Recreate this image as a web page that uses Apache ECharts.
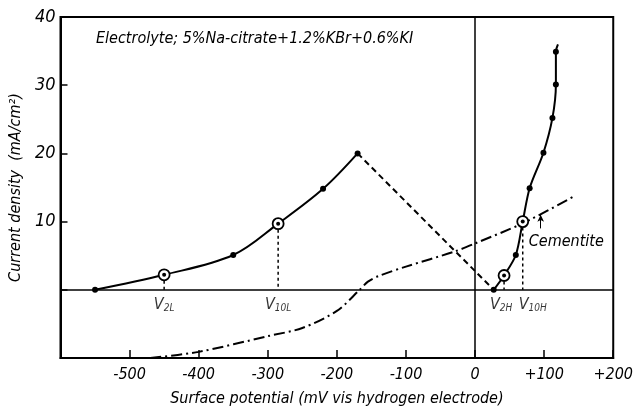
<!DOCTYPE html>
<html>
<head>
<meta charset="utf-8">
<script src="https://cdn.jsdelivr.net/npm/echarts@6/dist/echarts.min.js"></script>
<style>
html,body{margin:0;padding:0;background:#fff;}
#main{width:636px;height:412px;}
</style>
</head>
<body>
<div id="main"></div>
<script>
//数据
var titleText = 'Electrolyte; 5%Na-citrate+1.2%KBr+0.6%KI';
var xTicks = [-600, -500, -400, -300, -200, -100, 0, 100, 200];
var yTicks = [-10, 0, 10, 20, 30, 40];
// 低电位侧 实线
var lowX = [-550, -450, -350, -285, -220, -170];
var lowY = [0, 2.2, 5.1, 9.7, 14.8, 20];
// 虚线 (峰 -> 谷)
var dashX = [-170, 27];
var dashY = [20, 0];
// 高电位侧 实线
var highX = [27, 42, 59, 69, 79, 99, 112, 117, 117, 120];
var highY = [0, 2.1, 5.1, 10, 14.9, 20.1, 25.2, 30.1, 34.9, 36];
// Cementite 点划线
var cemX = [-470, -400, -300, -250, -200, -167, -155, -140, -100, -30, 0, 70, 145];
var cemY = [-10, -9.1, -6.8, -5.6, -3.1, 0, 1.2, 2.0, 3.4, 5.6, 6.8, 9.8, 13.8];
// 标记点 V
var vX = [-450, -285, 42, 69];
var vY = [2.2, 9.7, 2.1, 10];
var vSub = ['2L', '10L', '2H', '10H'];
// 实心点
var dotX = [-550, -350, -220, -170, 27, 59, 79, 99, 112, 117, 117];
var dotY = [0, 5.1, 14.8, 20, 0, 5.1, 14.9, 20.1, 25.2, 30.1, 34.9];
// Cementite 标注
var cemLabelPos = [132, 8.2];
var cemArrow = [[95, 9.0], [95, 11.0]];

var font = '"DejaVu Sans Condensed", "DejaVu Sans", sans-serif';
function pairs(xs, ys) {
	var out = [];
	for (var i = 0; i < xs.length; i++) out.push([xs[i], ys[i]]);
	return out;
}

var myChart = echarts.init(document.getElementById('main'));

var series = [
	{
		name: 'low', type: 'line', data: pairs(lowX, lowY), smooth: 0.35,
		showSymbol: false, lineStyle: {color: '#000', width: 2}, z: 3,
		markLine: {
			silent: true, symbol: 'none', label: {show: false},
			lineStyle: {color: '#000', width: 1.5, type: 'solid'},
			data: [{xAxis: 0}, {yAxis: 0}]
		}
	},
	{
		name: 'dash', type: 'line', data: pairs(dashX, dashY),
		showSymbol: false, lineStyle: {color: '#000', width: 2, type: [6, 4]}
	},
	{
		name: 'high', type: 'line', data: pairs(highX, highY), smooth: 0.3,
		showSymbol: false, lineStyle: {color: '#000', width: 2}, z: 3
	},
	{
		name: 'cementite', type: 'line', data: pairs(cemX, cemY), smooth: 0.3,
		showSymbol: false, lineStyle: {color: '#000', width: 2, type: [11, 4, 2, 4]}
	},
	{
		name: 'dots', type: 'scatter', data: pairs(dotX, dotY),
		symbol: 'circle', symbolSize: 6, itemStyle: {color: '#000', opacity: 1}, z: 5
	},
	{
		name: 'rings', type: 'scatter', data: pairs(vX, vY),
		symbol: 'circle', symbolSize: 11,
		itemStyle: {color: '#fff', borderColor: '#000', borderWidth: 1.8, opacity: 1}, z: 5
	},
	{
		name: 'ringDots', type: 'scatter', data: pairs(vX, vY),
		symbol: 'circle', symbolSize: 4, itemStyle: {color: '#000', opacity: 1}, z: 6
	},
	{
		name: 'vlabels', type: 'scatter', symbolSize: 0, silent: true,
		data: vX.map(function (x, i) {
			var right = vSub[i] === '10H';
			return {
				value: [x, 0],
				label: {
					show: true,
					position: 'bottom',
					distance: 6,
					align: right ? 'left' : 'center',
					offset: right ? [-4, 0] : (vSub[i] === '2H' ? [-3, 0] : [0, 0]),
					formatter: '{v|V}{s|' + vSub[i] + '}',
					rich: {
						v: {fontFamily: font, fontStyle: 'italic', fontSize: 16, color: '#000'},
						s: {fontFamily: font, fontStyle: 'italic', fontSize: 10, color: '#000', verticalAlign: 'bottom', padding: [8, 0, 0, 0]}
					}
				}
			};
		})
	},
	{
		name: 'cemLabel', type: 'scatter', symbolSize: 0, silent: true,
		itemStyle: {opacity: 1},
		data: [{
			value: cemLabelPos,
			label: {show: true, position: 'bottom', distance: 0, formatter: 'Cementite',
				fontFamily: font, fontStyle: 'italic', fontSize: 16, color: '#000'}
		}],
		markLine: {
			silent: true, symbol: ['none', 'arrow'], symbolSize: [5, 7],
			label: {show: false},
			lineStyle: {color: '#000', width: 1, type: 'solid'},
			data: [[{coord: cemArrow[0]}, {coord: cemArrow[1]}]]
		}
	}
];

// 竖直虚线 V 点 -> 0
vX.forEach(function (x, i) {
	series.push({
		name: 'drop' + i, type: 'line', data: [[x, vY[i]], [x, 0]],
		showSymbol: false, lineStyle: {color: '#000', width: 1.5, type: [3, 3]}
	});
});

var option = {
	animation: false,
	backgroundColor: '#ffffff',
	title: {
		text: titleText, left: 91, top: 26,
		textStyle: {fontFamily: font, fontStyle: 'italic', fontWeight: 'normal', fontSize: 16, color: '#000'}
	},
	grid: {
		left: 57, right: 20, top: 17, bottom: 49,
		show: true, borderColor: '#000', borderWidth: 2
	},
	xAxis: {
		type: 'value',
		min: xTicks[0], max: xTicks[xTicks.length - 1], interval: 100,
		name: 'Surface potential (mV vis hydrogen electrode)',
		nameLocation: 'middle', nameGap: 33,
		nameTextStyle: {fontFamily: font, fontStyle: 'italic', fontSize: 16, color: '#000'},
		axisLine: {show: true, onZero: false, lineStyle: {color: '#000', width: 2}},
		axisTick: {show: true, inside: true, length: 8, lineStyle: {color: '#000', width: 1.5}},
		splitLine: {show: false},
		axisLabel: {
			margin: 9, fontFamily: font, fontStyle: 'italic', fontSize: 16, color: '#000',
			formatter: function (v) {
				if (v === xTicks[0]) return '';
				return v > 0 ? '+' + v : String(v);
			}
		}
	},
	yAxis: {
		type: 'value',
		position: 'left',
		min: yTicks[0], max: yTicks[yTicks.length - 1], interval: 10,
		name: 'Current density  (mA/cm²)',
		nameLocation: 'middle', nameGap: 30,
		nameTextStyle: {fontFamily: font, fontStyle: 'italic', fontSize: 16, color: '#000'},
		axisLine: {show: true, onZero: false, lineStyle: {color: '#000', width: 2}},
		axisTick: {show: true, inside: true, length: 7, lineStyle: {color: '#000', width: 1.5}},
		splitLine: {show: false},
		axisLabel: {
			margin: 5, fontFamily: font, fontStyle: 'italic', fontSize: 18, color: '#000',
			formatter: function (v) { return v > 0 ? String(v) : ''; }
		}
	},
	series: series
};
myChart.setOption(option);
</script>
</body>
</html>
